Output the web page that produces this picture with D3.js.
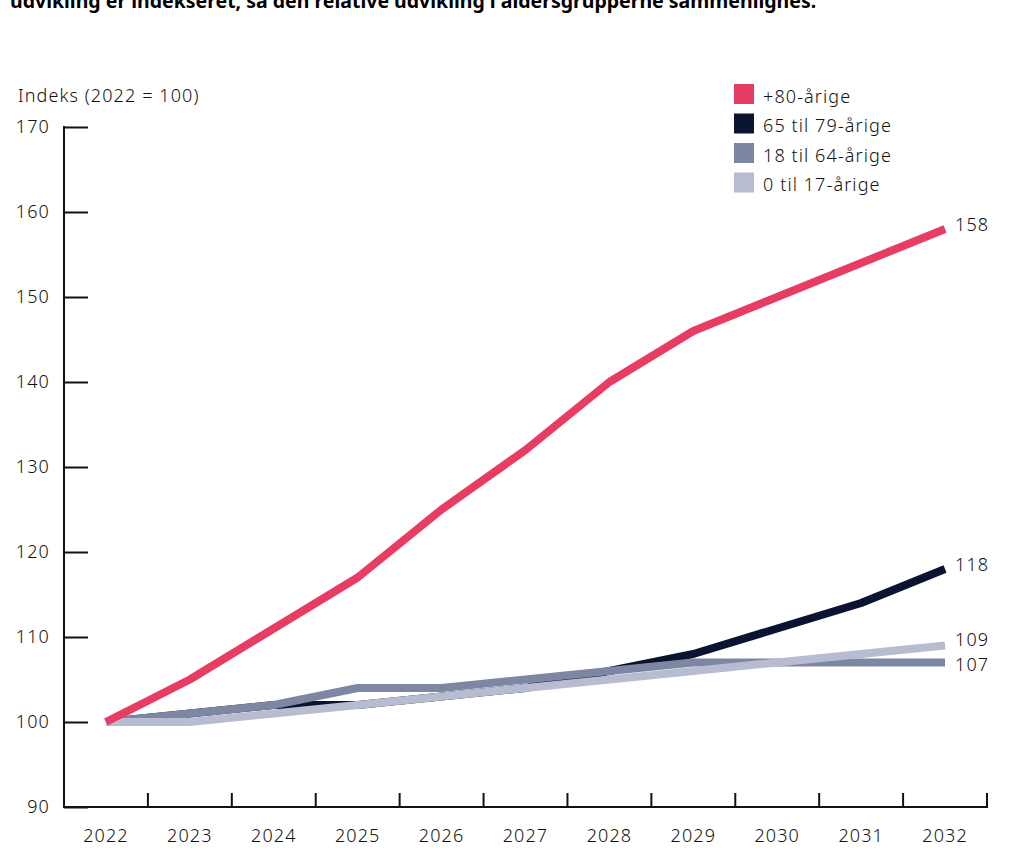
<!DOCTYPE html>
<html>
<head>
<meta charset="utf-8">
<script src="https://cdn.jsdelivr.net/npm/d3@7"></script>
<style>
  body { margin: 0; background: #fff; }
  svg { display: block; font-family: "Noto Sans", sans-serif; }
  .lab { font-size: 18px; font-weight: 300; letter-spacing: 1.1px; fill: #111; }
</style>
</head>
<body>
<svg id="chart" width="1011" height="848"></svg>
<script>
// Data
var years = ['2022', '2023', '2024', '2025', '2026', '2027', '2028', '2029', '2030', '2031', '2032'];
var seriesNames = ['+80-årige', '65 til 79-årige', '18 til 64-årige', '0 til 17-årige'];
var age80 = [100, 105, 111, 117, 125, 132, 140, 146, 150, 154, 158];
var age65 = [100, 101, 102, 102, 103, 104, 106, 108, 111, 114, 118];
var age18 = [100, 101, 102, 104, 104, 105, 106, 107, 107, 107, 107];
var age0 = [100, 100, 101, 102, 103, 104, 105, 106, 107, 108, 109];
var yTicks = [90, 100, 110, 120, 130, 140, 150, 160, 170];
var colors = ['#E83D63', '#0A1330', '#7D86A3', '#B7BCD1'];

var series = [age80, age65, age18, age0];

var svg = d3.select('#chart');

var margin = { left: 64, right: 24, top: 127, bottom: 41 },
  width = 1011 - margin.left - margin.right,
  height = 848 - margin.top - margin.bottom;

var x = d3.scaleBand().domain(years).range([margin.left, margin.left + width]);
var y = d3.scaleLinear().domain([90, 170]).range([margin.top + height, margin.top]);

// Titel (skåret af i toppen)
svg.append('text')
  .attr('x', 10)
  .attr('y', 8)
  .style('font-size', '19.5px')
  .style('font-weight', 'bold')
  .text('udvikling er indekseret, så den relative udvikling i aldersgrupperne sammenlignes.');

// Y-akse
var yAxis = svg.append('g')
  .attr('transform', 'translate(' + margin.left + ',0)')
  .call(d3.axisRight(y).tickValues(yTicks).tickSize(24).tickFormat(''));
yAxis.select('.domain').remove();
yAxis.selectAll('line').attr('stroke', '#111').attr('stroke-width', 2);

svg.append('line')
  .attr('x1', margin.left).attr('x2', margin.left)
  .attr('y1', y(170) - 1).attr('y2', y(90) + 1)
  .attr('stroke', '#111').attr('stroke-width', 2);

svg.selectAll('.ylab')
  .data(yTicks)
  .enter()
  .append('text')
  .attr('class', 'ylab lab')
  .attr('x', 50)
  .attr('y', function (d) { return y(d); })
  .attr('dy', '0.35em')
  .attr('text-anchor', 'end')
  .text(function (d) { return d; });

svg.append('text')
  .attr('class', 'lab')
  .attr('x', 18)
  .attr('y', 102)
  .text('Indeks (2022 = 100)');

// X-akse
svg.append('line')
  .attr('x1', margin.left - 1).attr('x2', margin.left + width + 1)
  .attr('y1', y(90)).attr('y2', y(90))
  .attr('stroke', '#111').attr('stroke-width', 2);

svg.selectAll('.xtick')
  .data(years)
  .enter()
  .append('line')
  .attr('class', 'xtick')
  .attr('x1', function (d) { return x(d) + x.bandwidth(); })
  .attr('x2', function (d) { return x(d) + x.bandwidth(); })
  .attr('y1', y(90) - 14)
  .attr('y2', y(90))
  .attr('stroke', '#111').attr('stroke-width', 2);

svg.selectAll('.xlab')
  .data(years)
  .enter()
  .append('text')
  .attr('class', 'xlab lab')
  .attr('x', function (d) { return x(d) + x.bandwidth() / 2; })
  .attr('y', 842)
  .attr('text-anchor', 'middle')
  .text(function (d) { return d; });

// Linjer
var line = d3.line()
  .x(function (d, i) { return x(years[i]) + x.bandwidth() / 2; })
  .y(function (d) { return y(d); });

var drawOrder = [1, 2, 3, 0];
drawOrder.forEach(function (k) {
  svg.append('path')
    .datum(series[k])
    .attr('d', line)
    .attr('fill', 'none')
    .attr('stroke', colors[k])
    .attr('stroke-width', 8)
    .attr('stroke-linejoin', 'round');
});

// Slutværdier
var endLabels = [
  { v: age80[10], dy: -4 },
  { v: age65[10], dy: -4 },
  { v: age0[10], dy: -6 },
  { v: age18[10], dy: 2 }
];
svg.selectAll('.endlab')
  .data(endLabels)
  .enter()
  .append('text')
  .attr('class', 'endlab lab')
  .attr('x', x('2032') + x.bandwidth() / 2 + 10)
  .attr('y', function (d) { return y(d.v) + d.dy; })
  .attr('dy', '0.35em')
  .text(function (d) { return d.v; });

// Forklaring
var legend = svg.selectAll('.legend')
  .data(seriesNames)
  .enter()
  .append('g')
  .attr('class', 'legend')
  .attr('transform', function (d, i) {
    return 'translate(734,' + (84 + i * 29.5) + ')';
  });

legend.append('rect')
  .attr('width', 20)
  .attr('height', 20)
  .style('fill', function (d, i) { return colors[i]; });

legend.append('text')
  .attr('class', 'lab')
  .attr('x', 29)
  .attr('y', 12)
  .attr('dy', '0.38em')
  .text(function (d) { return d; });
</script>
</body>
</html>
